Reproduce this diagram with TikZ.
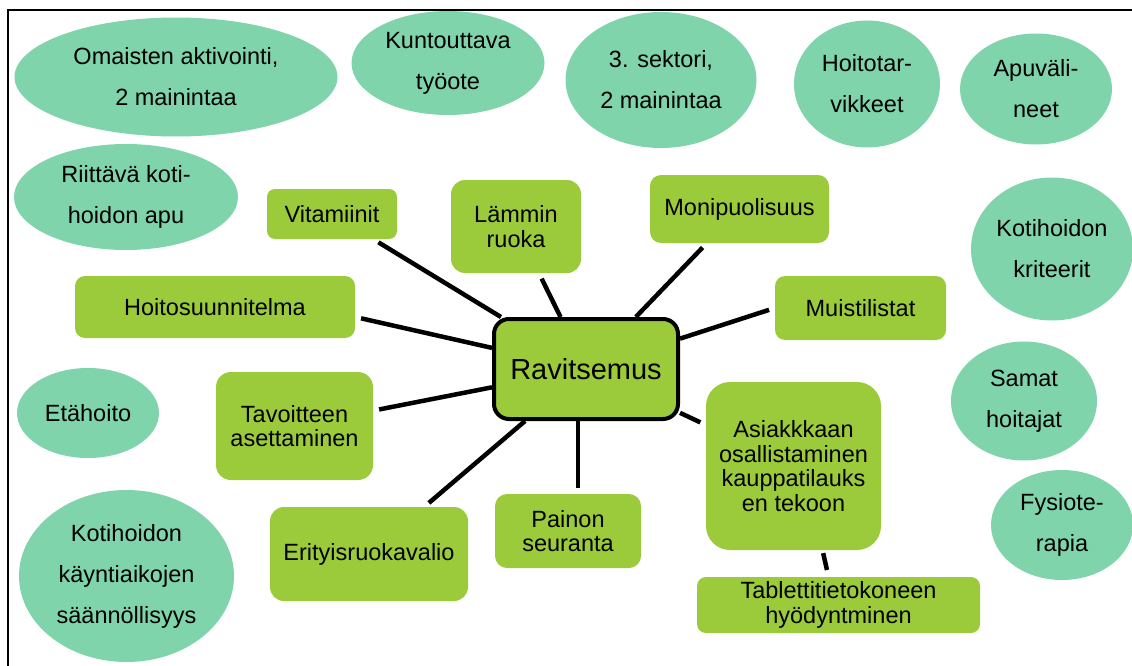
\documentclass[tikz,border=0pt]{standalone}
\usepackage{fontspec}
\setmainfont{Liberation Sans}
\usetikzlibrary{shapes.geometric}
\definecolor{mint}{RGB}{127,212,172}
\definecolor{leaf}{RGB}{155,203,59}
\newcommand{\ovalfont}{\fontsize{23.5}{41}\selectfont}
\newcommand{\tagfont}{\fontsize{23.5}{24.5}\selectfont}
\tikzstyle{bubble} = [ellipse, fill=mint, inner sep=0pt, align=center, font=\ovalfont]
\tikzstyle{topic} = [rectangle, rounded corners=10pt, fill=leaf, inner sep=0pt, align=center, font=\tagfont]
\tikzstyle{core} = [rectangle, rounded corners=15pt, draw=black, line width=4pt, fill=leaf, minimum width=184pt, minimum height=100pt, font=\fontsize{29}{30}\selectfont]
\tikzstyle{link} = [line width=4.5pt, shorten <=6pt]

\begin{document}
\begin{tikzpicture}[x=1pt, y=-1pt]
        \useasboundingbox (0,0) rectangle (1132,666);

        % ideas around the map
        \node (omaiset) [bubble, minimum width=323pt, minimum height=119pt] at (176,77) {Omaisten aktivointi,\\2 mainintaa};
        \node (kuntout) [bubble, minimum width=193pt, minimum height=104pt] at (448,63) {Kuntouttava\\työote};
        \node (sektori) [bubble, minimum width=191pt, minimum height=136pt] at (661,80) {3. sektori,\\2 mainintaa};
        \node (tarvike) [bubble, minimum width=146pt, minimum height=127pt] at (867,84) {Hoitotar-\\vikkeet};
        \node (apuval) [bubble, minimum width=152pt, minimum height=111pt] at (1036,89) {Apuväli-\\neet};
        \node (kriteeri) [bubble, minimum width=162pt, minimum height=143pt] at (1052,249) {Kotihoidon\\kriteerit};
        \node (samat) [bubble, minimum width=146pt, minimum height=119pt] at (1024,401) {Samat\\hoitajat};
        \node (fysio) [bubble, minimum width=142pt, minimum height=110pt] at (1062,525) {Fysiote-\\rapia};
        \node (riittava) [bubble, minimum width=224pt, minimum height=106pt] at (126,197) {Riittävä koti-\\hoidon apu};
        \node (etahoito) [bubble, minimum width=142pt, minimum height=90pt] at (88,413) {Etähoito};
        \node (kaynnit) [bubble, minimum width=215pt, minimum height=172pt] at (126.5,576) {Kotihoidon\\käyntiaikojen\\säännöllisyys};

        % mind map
        \node (rav) [core] at (586,369) {Ravitsemus};
        \node (vit) [topic, rounded corners=8pt, minimum width=130pt, minimum height=50pt] at (332,214) {Vitamiinit};
        \node (lammin) [topic, rounded corners=14pt, minimum width=130pt, minimum height=93pt] at (516,226.5) {Lämmin\\ruoka};
        \node (moni) [topic, rounded corners=11pt, minimum width=179pt, minimum height=68pt] at (739.5,209) {Monipuolisuus};
        \node (suunn) [topic, minimum width=280pt, minimum height=62pt] at (215,307) {Hoitosuunnitelma};
        \node (muisti) [topic, minimum width=171pt, minimum height=64pt] at (860.5,308) {Muistilistat};
        \node (tavoite) [topic, rounded corners=15pt, minimum width=157pt, minimum height=108pt] at (294.5,426) {Tavoitteen\\asettaminen};
        \node (asiakas) [topic, rounded corners=24pt, minimum width=175pt, minimum height=168pt] at (793.5,466) {Asiakkkaan\\osallistaminen\\kauppatilauks\\en tekoon};
        \node (erityis) [topic, rounded corners=14pt, minimum width=198pt, minimum height=94pt] at (369,554) {Erityisruokavalio};
        \node (paino) [topic, rounded corners=12pt, minimum width=146pt, minimum height=74pt] at (568,531) {Painon\\seuranta};
        \node (tabletti) [topic, rounded corners=9pt, minimum width=283pt, minimum height=56pt] at (838.5,605) {Tablettitietokoneen\\hyödyntminen};

        \draw [link] (vit) -- (rav);
        \draw [link] (lammin) -- (rav);
        \draw [link] (moni) -- (rav);
        \draw [link] ([yshift=-10pt]suunn.east) -- (rav);
        \draw [link] (muisti.west) -- (rav);
        \draw [link] (tavoite) -- (rav);
        \draw [link] (erityis) -- (rav);
        \draw [link] ([xshift=10pt]paino.north) -- ([xshift=-8pt]rav.south);
        \draw [link] (asiakas) -- (rav);
        \draw [link, shorten <=3pt, shorten >=7pt] ([xshift=29pt]asiakas.south) -- ([xshift=-10pt]tabletti.north);

        \draw [line width=2pt] (8,720) -- (8,10) -- (1180,10);
    \end{tikzpicture}
\end{document}
